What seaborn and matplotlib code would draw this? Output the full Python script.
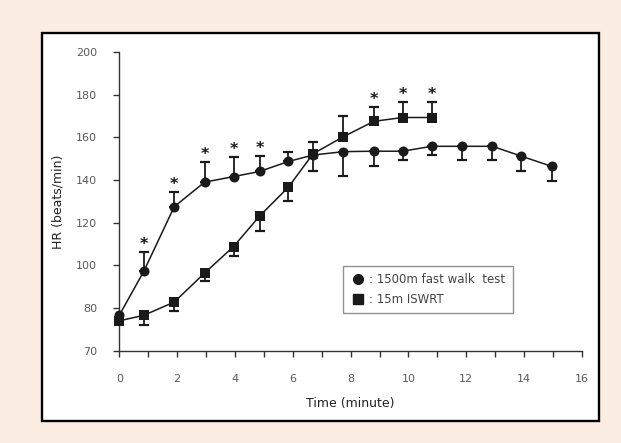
import numpy as np
import pandas as pd
import matplotlib
matplotlib.use("Agg")
import matplotlib.pyplot as plt
import seaborn as sns
from matplotlib.patches import Rectangle
from matplotlib.lines import Line2D

# ---------------- data ----------------
time_walk = [0, 0.85, 1.9, 2.95, 3.95, 4.85, 5.85, 6.7, 7.75, 8.8, 9.8, 10.8, 11.85, 12.9, 13.9, 14.95]
hr_walk = [78.3, 97.3, 127.5, 139.0, 141.6, 144.0, 148.7, 151.7, 153.3, 153.5, 153.5, 155.8, 155.8, 155.8, 151.2, 146.4]
walk_err_up = [0, 8.9, 6.7, 9.6, 9.4, 7.2, 4.6, 0, 0, 0, 0, 0, 0, 0, 0, 0]
walk_err_down = [0, 0, 0, 0, 0, 0, 0, 7.3, 11.6, 6.9, 4.3, 4.3, 6.6, 6.6, 7.0, 6.9]
walk_star = [False, True, True, True, True, True] + [False] * 10

time_swrt = [0, 0.85, 1.9, 2.95, 3.95, 4.85, 5.85, 6.7, 7.75, 8.8, 9.8, 10.8]
hr_swrt = [77.0, 78.3, 82.8, 96.4, 108.8, 123.1, 136.7, 152.3, 160.3, 167.5, 169.3, 169.3]
swrt_err_up = [0, 0, 0, 0, 0, 0, 0, 5.7, 9.5, 6.5, 7.3, 7.3]
swrt_err_down = [0, 2.3, 3.5, 3.8, 4.5, 7.0, 6.5, 0, 0, 0, 0, 0]
swrt_star = [False] * 9 + [True, True, True]

labels = [": 1500m fast walk  test", ": 15m ISWRT"]
y_ticks = [70, 80, 100, 120, 140, 160, 180, 200]
x_ticks = list(range(0, 17))
x_ticklabels = [str(v) if v % 2 == 0 else "" for v in x_ticks]

# ---------------- style ----------------
sns.set_style("ticks")
plt.rcParams["font.family"] = ["DejaVu Sans"]

INK = "#1a1a1a"
GREY = "#5a5a5a"

fig = plt.figure(figsize=(6.21, 4.43), dpi=100)
fig.patch.set_facecolor("#FCEDE3")
W, H = 621, 443
fig.add_artist(Rectangle((42 / W, 1 - 421 / H), (599 - 42) / W, (421 - 33) / H,
                         transform=fig.transFigure, facecolor="white",
                         edgecolor="black", lw=1.7, zorder=-1))

ax = fig.add_axes([119.3 / W, 1 - 350.7 / H, (582 - 119.3) / W, (350.7 - 52) / H])
ax.set_facecolor("white")


# broken lower part of the y axis: 70-80 drawn as tall as 20 units
def fwd(y):
    y = np.asarray(y, dtype=float)
    return np.where(y < 80, 60 + (y - 70) * 2, y)


def inv(t):
    t = np.asarray(t, dtype=float)
    return np.where(t < 80, 70 + (t - 60) / 2, t)


ax.set_yscale("function", functions=(fwd, inv))

df = pd.concat([
    pd.DataFrame({"time": time_walk, "hr": hr_walk, "test": "walk"}),
    pd.DataFrame({"time": time_swrt, "hr": hr_swrt, "test": "swrt"}),
], ignore_index=True)

# error bars (one-sided)
for t, y, lo, hi in [(time_walk, hr_walk, walk_err_down, walk_err_up),
                     (time_swrt, hr_swrt, swrt_err_down, swrt_err_up)]:
    ax.errorbar(t, y, yerr=[lo, hi], fmt="none", ecolor=INK, elinewidth=1.3,
                capsize=3.3, capthick=1.6, zorder=2)

sns.lineplot(data=df, x="time", y="hr", style="test",
             markers={"walk": "o", "swrt": "s"}, dashes=False,
             color=INK, linewidth=1.1, markersize=7.2, markeredgewidth=0,
             sort=False, estimator=None, legend=False, ax=ax, zorder=3,
             clip_on=False)

# significance stars
for t, y, up, st in [(time_walk, hr_walk, walk_err_up, walk_star),
                     (time_swrt, hr_swrt, swrt_err_up, swrt_star)]:
    for ti, yi, ui, si in zip(t, y, up, st):
        if si:
            ax.annotate("*", xy=(ti, yi + ui), xytext=(0, 0),
                        textcoords="offset points", ha="center", va="bottom",
                        fontsize=11.5, fontweight="bold", color=INK)

ax.set_xlim(0, 16)
ax.set_ylim(70, 200)
ax.set_xticks(x_ticks)
ax.set_xticklabels(x_ticklabels)
ax.set_yticks(y_ticks)
ax.set_yticklabels([str(v) for v in y_ticks])
ax.minorticks_off()

for s in ["top", "right"]:
    ax.spines[s].set_visible(False)
for s in ["left", "bottom"]:
    ax.spines[s].set_color("#333333")
    ax.spines[s].set_linewidth(1.0)

ax.tick_params(axis="y", direction="out", length=4, width=1, color="#333333",
               pad=12, labelsize=8, labelcolor=GREY)
ax.tick_params(axis="x", direction="out", length=4, width=1, color="#333333",
               pad=13, labelsize=8, labelcolor=GREY)

ax.set_xlabel("Time (minute)", fontsize=9, color="#222222", labelpad=9)
ax.set_ylabel("HR (beats/min)", fontsize=9, color="#222222", labelpad=8)

handles = [Line2D([], [], marker="o", ls="none", color=INK, markersize=7),
           Line2D([], [], marker="s", ls="none", color=INK, markersize=7)]
leg = ax.legend(handles, labels, loc="upper left", bbox_to_anchor=(0.483, 0.285),
                frameon=True, fancybox=False, fontsize=8.5, handletextpad=0.35,
                handlelength=1.3, borderpad=0.6, labelspacing=0.6,
                borderaxespad=0, labelcolor="#444444")
leg.get_frame().set_edgecolor("#777777")
leg.get_frame().set_linewidth(1.0)

fig.savefig("out.png", dpi=100, facecolor=fig.get_facecolor())
